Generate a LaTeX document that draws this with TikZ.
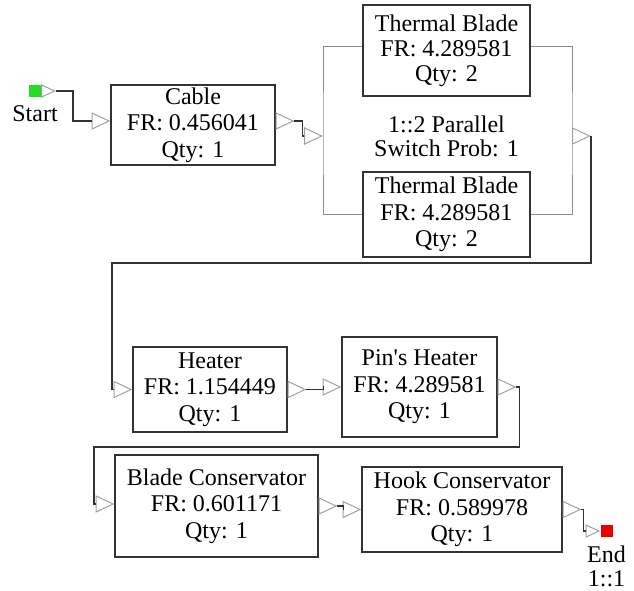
\documentclass[tikz,border=0pt]{standalone}
\usepackage{fontspec}
\setmainfont{Liberation Serif}
\usetikzlibrary{shapes.geometric,positioning}
\definecolor{boxline}{HTML}{333333}
\definecolor{portgray}{HTML}{A0A0A0}
\definecolor{pargray}{HTML}{8C8C8C}
\definecolor{startgreen}{HTML}{22DD22}
\definecolor{endred}{HTML}{EE0000}

\begin{document}
\begin{tikzpicture}[x=1pt, y=-1pt,
  block/.style={draw=boxline, line width=1.3pt, fill=white, align=center, inner sep=0pt, font=\fontsize{24}{26.5}\selectfont},
  outport/.style={isosceles triangle, isosceles triangle stretches, draw=portgray, line width=1pt, inner sep=0pt, minimum width=16pt, minimum height=17pt, anchor=lower side},
  inport/.style={outport, anchor=apex},
  smallport/.style={minimum width=12pt, minimum height=13pt},
  wire/.style={draw=boxline, line width=1.4pt},
  parline/.style={draw=pargray, line width=1pt},
  term/.style={minimum size=12pt, inner sep=0pt},
  lbl/.style={font=\fontsize{24}{24}\selectfont, align=center, inner sep=0pt}
]
\useasboundingbox (0,0) rectangle (634,590);
\node[term, fill=startgreen] (start) at (35,91) {};
\node[lbl, below=8pt of start] (startlbl) {Start};
\node[outport, smallport] (start-out) at (start.east) {};
\node[block, minimum width=164pt, minimum height=80pt] (cable) at (193,125) {Cable\\FR: 0.456041\\Qty: 1};
\node[inport] (cable-in) at ([yshift=4pt]cable.west) {};
\node[outport] (cable-out) at ([yshift=4pt]cable.east) {};
\node[block, minimum width=167pt, minimum height=91pt, font=\fontsize{24}{25}\selectfont] (blade1) at (446.5,50.5) {Thermal Blade\\FR: 4.289581\\Qty: 2};
\node[block, minimum width=167pt, minimum height=85pt] (blade2) at (446.5,214.5) {Thermal Blade\\FR: 4.289581\\Qty: 2};
\node[lbl] (parlbl) at (446.5,136) {1::2 Parallel\\Switch Prob: 1};
\coordinate (parleft) at (323,136);
\coordinate (parright) at (572,136);
\draw[parline] ([yshift=4pt]blade1.west) -| (parleft) |- (blade2.west);
\draw[parline] ([yshift=4pt]blade1.east) -| (parright) |- (blade2.east);
\node[inport] (par-in) at (parleft) {};
\node[outport] (par-out) at (parright) {};
\node[block, minimum width=154pt, minimum height=85pt] (heater) at (210,389.5) {Heater\\FR: 1.154449\\Qty: 1};
\node[inport] (heater-in) at (heater.west) {};
\node[outport] (heater-out) at (heater.east) {};
\node[block, minimum width=155pt, minimum height=100pt] (pin) at (419.5,387) {Pin\textquotesingle s Heater\\FR: 4.289581\\Qty: 1};
\node[inport] (pin-in) at (pin.west) {};
\node[outport] (pin-out) at (pin.east) {};
\node[block, minimum width=203pt, minimum height=102pt] (bladecons) at (216.5,506) {Blade Conservator\\FR: 0.601171\\Qty: 1};
\node[inport] (bladecons-in) at ([yshift=2pt]bladecons.west) {};
\node[outport] (bladecons-out) at (bladecons.east) {};
\node[block, minimum width=200pt, minimum height=85pt] (hook) at (462,509.5) {Hook Conservator\\FR: 0.589978\\Qty: 1};
\node[inport] (hook-in) at (hook.west) {};
\node[outport] (hook-out) at (hook.east) {};
\node[term, fill=endred] (end) at (606.5,531) {};
\node[inport, smallport] (end-in) at (end.west) {};
\node[lbl, below=8pt of end] (endlbl) {End\\1::1};
\coordinate (turn1) at (112,263);
\coordinate (turn2) at (94,447);
\draw[wire] (start-out.apex) -- ++(17,0) |- (cable-in.lower side);
\draw[wire] (cable-out.apex) -- ++(8,0) |- (par-in.lower side);
\draw[wire] (par-out.apex) |- (turn1) |- (heater-in.lower side);
\draw[wire] (heater-out.apex) -- ++(17,0) |- (pin-in.lower side);
\draw[wire] (pin-out.apex) -- ++(3,0) |- (turn2) |- (bladecons-in.lower side);
\draw[wire] (bladecons-out.apex) -- ++(6,0) |- (hook-in.lower side);
\draw[wire] (hook-out.apex) -- ++(2,0) |- (end-in.lower side);
\end{tikzpicture}
\end{document}
